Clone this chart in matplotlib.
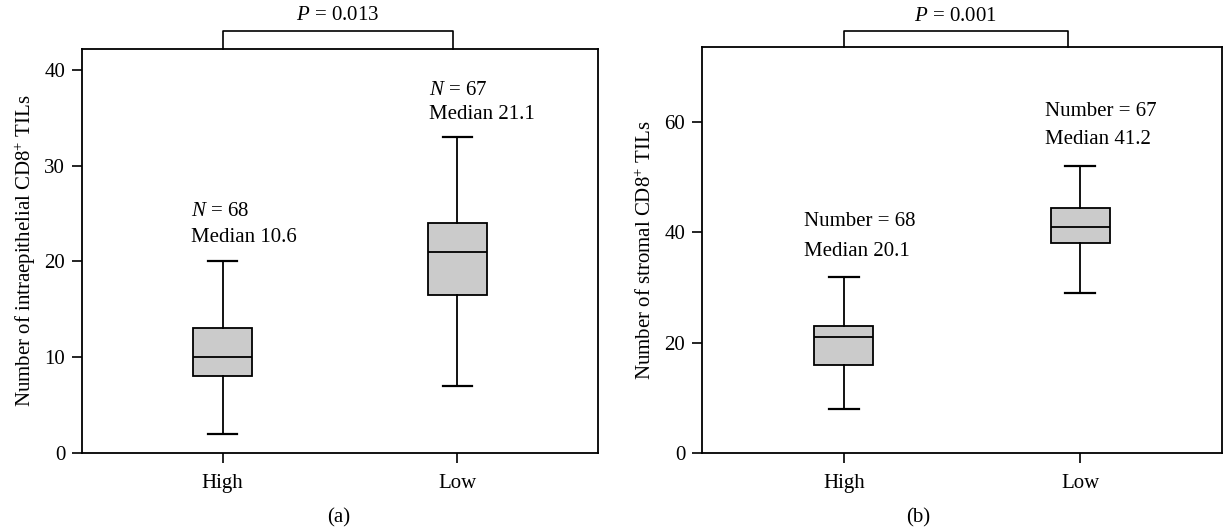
import matplotlib.pyplot as plt

plt.rcParams['font.family'] = 'Liberation Serif'
plt.rcParams['mathtext.fontset'] = 'custom'
plt.rcParams['mathtext.rm'] = 'Liberation Serif'
plt.rcParams['mathtext.it'] = 'Liberation Serif:italic'

groups = ['High', 'Low']

# panel (a): intraepithelial
a_whislo = [2, 7]
a_q1 = [8, 16.5]
a_med = [10, 21]
a_q3 = [13, 24]
a_whishi = [20, 33]
a_n = [68, 67]
a_median_txt = ['10.6', '21.1']
a_p = '0.013'

# panel (b): stromal
b_whislo = [8, 29]
b_q1 = [16, 38]
b_med = [21, 41]
b_q3 = [23, 44.5]
b_whishi = [32, 52]
b_n = [68, 67]
b_median_txt = ['20.1', '41.2']
b_p = '0.001'

fs = 15

fig = plt.figure(figsize=(12.25, 5.31), dpi=100)
ax1 = fig.add_axes([0.0669, 0.147, 0.4213, 0.761])
ax2 = fig.add_axes([0.573, 0.147, 0.4246, 0.764])


def draw(ax, lo, q1, med, q3, hi, ymax, yticks, ylabel):
    stats = []
    for i in range(len(groups)):
        stats.append(dict(whislo=lo[i], q1=q1[i], med=med[i], q3=q3[i],
                          whishi=hi[i], fliers=[], label=groups[i]))
    ax.bxp(stats, positions=[1, 2], widths=0.25, patch_artist=True,
           showfliers=False,
           boxprops=dict(facecolor='#cbcbcb', edgecolor='black', linewidth=1.3),
           medianprops=dict(color='black', linewidth=1.3),
           whiskerprops=dict(color='black', linewidth=1.3),
           capprops=dict(color='black', linewidth=1.6))
    ax.set_xlim(0.4, 2.6)
    ax.set_ylim(0, ymax)
    ax.set_yticks(yticks)
    ax.tick_params(direction='out', length=7, width=1.2, labelsize=fs, colors='black')
    ax.tick_params(axis='x', pad=8)
    ax.tick_params(axis='y', pad=5)
    ax.tick_params(top=False, right=False)
    for s in ax.spines.values():
        s.set_linewidth(1.3)
    ax.set_ylabel(ylabel, fontsize=fs)


draw(ax1, a_whislo, a_q1, a_med, a_q3, a_whishi, 42.2, [0, 10, 20, 30, 40],
     'Number of intraepithelial CD8$^{+}$ TILs')
draw(ax2, b_whislo, b_q1, b_med, b_q3, b_whishi, 73.6, [0, 20, 40, 60],
     'Number of stromal CD8$^{+}$ TILs')
ax1.yaxis.set_label_coords(-0.085, 0.5)
ax2.yaxis.set_label_coords(-0.089, 0.5)

# annotations panel (a)
ax1.text(0.864, 25.2, '$N$ = %d' % a_n[0], fontsize=fs, va='center')
ax1.text(0.864, 22.5, 'Median ' + a_median_txt[0], fontsize=fs, va='center')
ax1.text(1.88, 37.9, '$N$ = %d' % a_n[1], fontsize=fs, va='center')
ax1.text(1.88, 35.3, 'Median ' + a_median_txt[1], fontsize=fs, va='center')

# annotations panel (b)
ax2.text(0.831, 41.9, 'Number = %d' % b_n[0], fontsize=fs, va='center')
ax2.text(0.831, 36.6, 'Median ' + b_median_txt[0], fontsize=fs, va='center')
ax2.text(1.853, 61.9, 'Number = %d' % b_n[1], fontsize=fs, va='center')
ax2.text(1.853, 56.8, 'Median ' + b_median_txt[1], fontsize=fs, va='center')

# significance brackets
ax1.plot([1, 1, 1.98, 1.98], [42.2, 44.1, 44.1, 42.2], color='black', lw=1.2, clip_on=False)
ax1.text(1.49, 45.7, '$P$ = ' + a_p, fontsize=fs, ha='center', va='center')
ax2.plot([1, 1, 1.95, 1.95], [73.6, 76.5, 76.5, 73.6], color='black', lw=1.2, clip_on=False)
ax2.text(1.47, 79.1, '$P$ = ' + b_p, fontsize=fs, ha='center', va='center')

fig.text(339 / 1225, 1 - 518 / 531, '(a)', fontsize=fs, ha='center', va='center')
fig.text(918 / 1225, 1 - 518 / 531, '(b)', fontsize=fs, ha='center', va='center')

fig.savefig('out.png', dpi=100)
